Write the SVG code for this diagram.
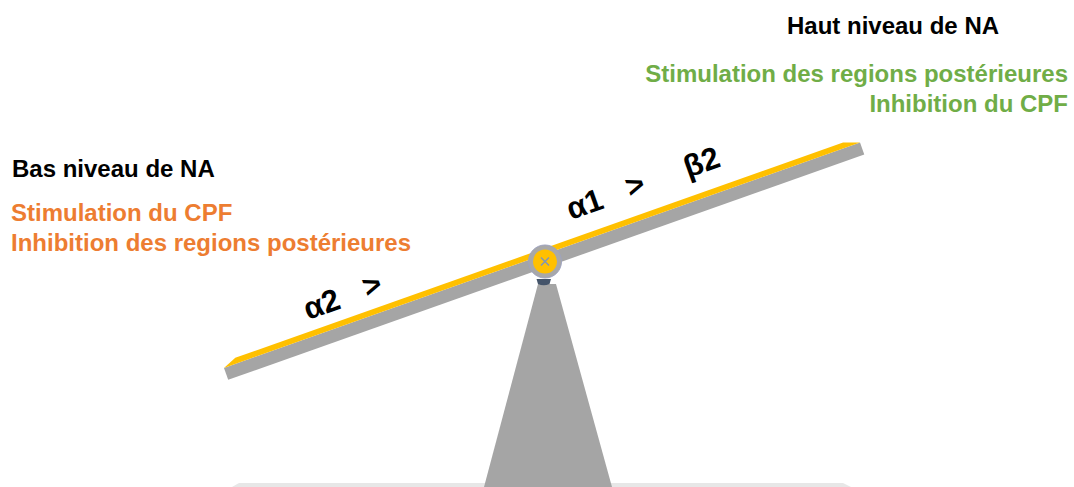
<svg xmlns="http://www.w3.org/2000/svg" width="1074" height="487" viewBox="0 0 1074 487">
<style>
text{font-family:"Liberation Sans",Arial,sans-serif;font-weight:bold;}
.t{font-size:24px;}
.k{fill:#000000;}
.g{fill:#70ad47;}
.o{fill:#ed7d31;}
.lbl{font-size:31px;fill:#000000;}
</style>
<rect width="1074" height="487" fill="#ffffff"/>
<g id="platform">
<polygon points="232,487 239,483 843,483 851,487" fill="#e7e7e7"/>
</g>
<g id="support">
<polygon points="538,284 556,284 612,487 484,487" fill="#a5a5a5"/>
</g>
<g id="beam" transform="translate(542,255.2) rotate(-19.51)">
<rect x="-337.4" y="0" width="674.8" height="12.7" fill="#a5a5a5"/>
<polygon points="-337.4,0 337.4,0 321.4,-5.7 -323.4,-5.7" fill="#ffc000"/>
</g>
<g id="pivot">
<path d="M536.5,279 L551,279 L549.5,284 Q543.7,286.5 538,284 Z" fill="#44546a"/>
<circle cx="545" cy="261.5" r="16.5" fill="#a8a8a8" stroke="#9ea3c0" stroke-width="1"/>
<circle cx="545" cy="261.5" r="12" fill="#ffc000"/>
<path d="M541,257.5 L549,265.5 M549,257.5 L541,265.5" stroke="#8497b0" stroke-width="1.6" fill="none"/>
</g>
<g id="connectors"></g>
<g id="labels-beam">
<text class="lbl" transform="translate(308,320) rotate(-19.5)">α2</text>
<text class="lbl" transform="translate(367,298) rotate(-19.5)">&gt;</text>
<text class="lbl" transform="translate(571,220) rotate(-19.5)">α1</text>
<text class="lbl" transform="translate(630,198) rotate(-19.5)">&gt;</text>
<text class="lbl" transform="translate(688,178) rotate(-19.5)">β2</text>
</g>
<g id="high">
<text class="t k" x="787" y="34">Haut niveau de NA</text>
<text class="t g" x="1068" y="82" text-anchor="end">Stimulation des regions postérieures</text>
<text class="t g" x="1068" y="112" text-anchor="end">Inhibition du CPF</text>
</g>
<g id="low">
<text class="t k" x="12" y="177">Bas niveau de NA</text>
<text class="t o" x="11" y="221">Stimulation du CPF</text>
<text class="t o" x="11" y="251">Inhibition des regions postérieures</text>
</g>
</svg>
